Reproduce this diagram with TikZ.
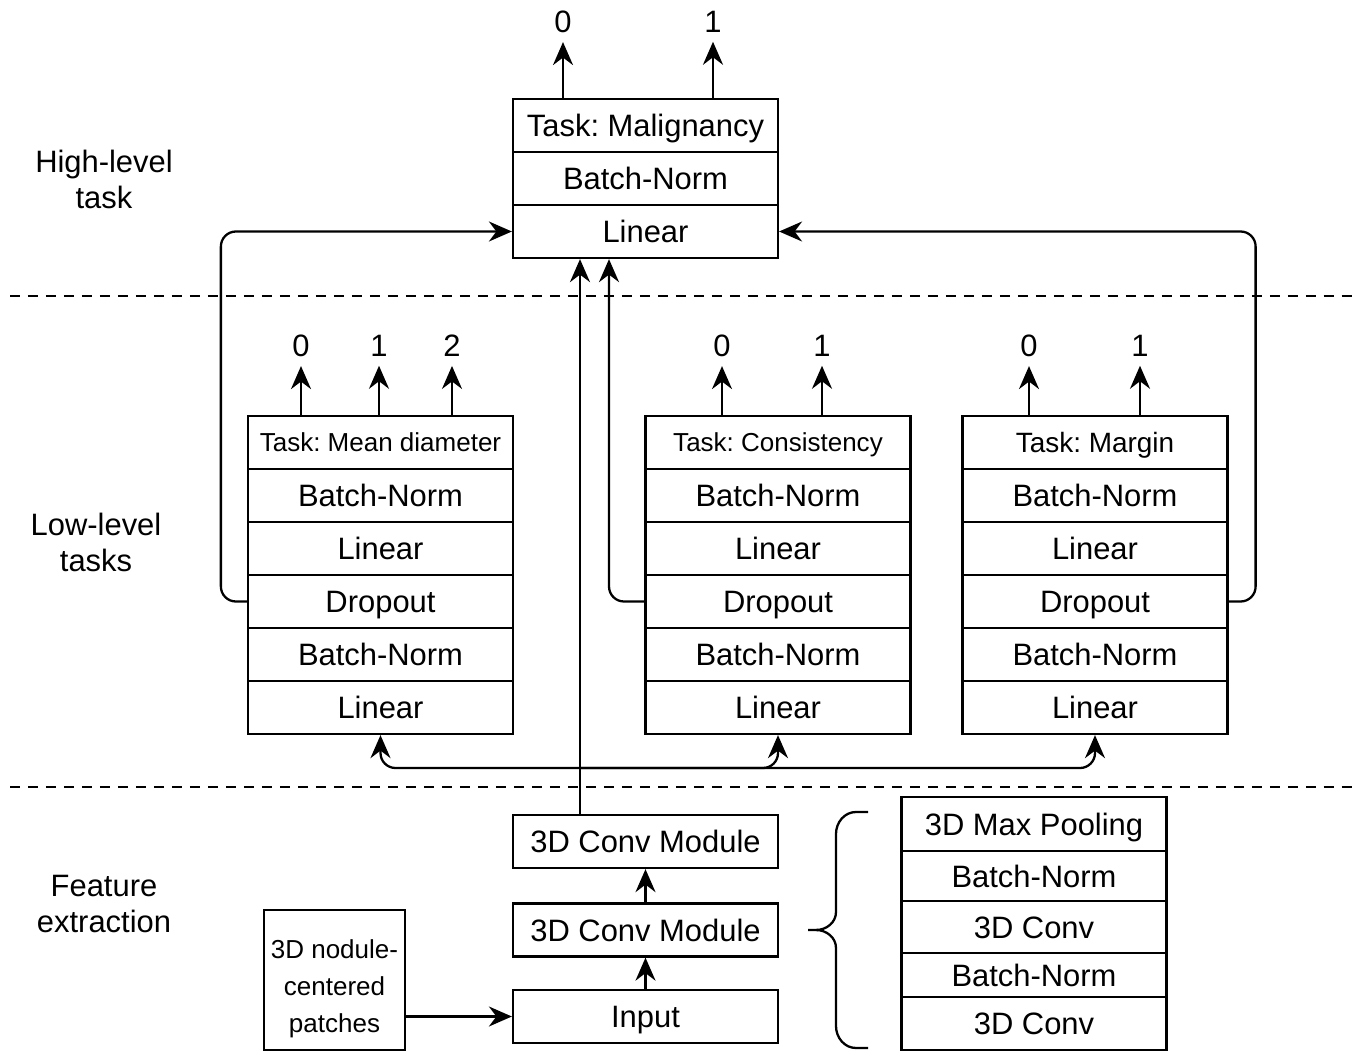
\documentclass[tikz,border=0pt]{standalone}
\usepackage{fontspec}
\setmainfont{Liberation Sans}
\usepackage{tikz}
\usetikzlibrary{arrows.meta,calc}
\tikzset{
  layer/.style={draw, line width=1.3pt, minimum width=5.3cm, minimum height=1.06cm, inner sep=0pt, font=\fontsize{17.6}{21}\selectfont, text height=12.7pt, text depth=0pt},
  small/.style={font=\fontsize{14.8}{21}\selectfont, text height=10.7pt, text depth=0pt},
  arr/.style={line width=1.3pt, -{Stealth[length=4.6mm,width=4mm,inset=1.5mm]}},
  lab/.style={font=\fontsize{17.6}{21}\selectfont, inner sep=5pt},
  sep/.style={line width=1pt, dash pattern=on 0.2cm off 0.16cm},
  side/.style={align=center, font=\fontsize{17.6}{20.5}\selectfont}
}

\begin{document}
\frenchspacing
\begin{tikzpicture}[x=0.02cm, y=-0.02cm]
\useasboundingbox (0,0) rectangle (1360,1051);

\node[side] (hl) at (104,179) {High-level\\task};
\node[side] (ll) at (96,542) {Low-level\\tasks};
\node[side] (fe) at (104,904) {Feature\\extraction};

\draw[sep] (10,296) -- (1355,296);
\draw[sep] (10,787) -- (1355,787);

\foreach \t [count=\i] in {Task: Malignancy, Batch-Norm, Linear}
  \node[layer] (ml\i) at (645.5,72.5+53*\i) {\t};

\node[layer, small] (md1) at (380.5,442.5) {Task: Mean diameter};
\node[layer, small] (cs1) at (778,442.5) {Task: Consistency};
\node[layer, font=\fontsize{15.9}{19}\selectfont, text height=11.5pt] (mg1) at (1095,442.5) {Task: Margin};
\foreach \s/\x in {md/380.5, cs/778, mg/1095}
  \foreach \t [count=\i from 2] in {Batch-Norm, Linear, Dropout, Batch-Norm, Linear}
    \node[layer] (\s\i) at (\x,389.5+53*\i) {\t};

\foreach \n/\x/\t in {a/563/0, b/713/1} {
  \node[lab] (ml\n) at (\x,22) {\t};
  \draw[arr] (ml\n |- ml1.north) -- (ml\n.south);
}
\foreach \s/\n/\x/\t in {md/a/301/0, md/b/379/1, md/c/452/2, cs/a/722/0, cs/b/822/1, mg/a/1029/0, mg/b/1140/1} {
  \node[lab] (\s\n) at (\x,346) {\t};
  \draw[arr] (\s\n |- \s1.north) -- (\s\n.south);
}

\draw[arr, rounded corners=0.3cm] (md4.west) -- ++(-26,0) |- (ml3.west);
\draw[arr, rounded corners=0.3cm] (mg4.east) -- ++(27,0) |- (ml3.east);
\draw[arr, rounded corners=0.3cm] (cs4.west) -| ([xshift=-0.73cm]ml3.south);

\node[layer] (cv2) at (645.5,841.5) {3D Conv Module};
\node[layer] (cv1) at (645.5,930) {3D Conv Module};
\node[layer] (inp) at (645.5,1016.5) {Input};
\node[draw, line width=1.3pt, minimum width=2.82cm, minimum height=2.8cm] (patch) at (334.5,980) {};
\node[align=center, font=\fontsize{14.8}{21}\selectfont] (ptxt) at (334.5,989) {3D nodule-\\centered\\patches};

\draw[arr] (inp.north) -- (cv1.south);
\draw[arr] (cv1.north) -- (cv2.south);
\draw[arr] (patch.east |- inp.west) -- (inp.west);

\coordinate (hub) at (580,768);
\draw[arr] (cv2.north -| hub) -- (ml3.south -| hub);
\draw[arr, rounded corners=0.3cm] (hub) -| (md6.south);
\draw[arr, rounded corners=0.3cm] (hub) -| (cs6.south);
\draw[arr, rounded corners=0.3cm] (hub) -| (mg6.south);

\foreach \t/\y/\h [count=\i] in {3D Max Pooling/824/1.08, Batch-Norm/876/1.0, 3D Conv/927/1.04, Batch-Norm/975/0.88, 3D Conv/1023.5/1.06}
  \node[layer, minimum height=\h cm] (mod\i) at (1034,\y) {\t};

\draw[line width=1.3pt] (868,812) -- (856,812) to[out=180,in=90] (836,834) -- (836,912) to[out=-90,in=0] (816,930) -- (808,930);
\draw[line width=1.3pt] (816,930) to[out=0,in=90] (836,948) -- (836,1026) to[out=-90,in=180] (856,1048) -- (868,1048);
\end{tikzpicture}
\end{document}
